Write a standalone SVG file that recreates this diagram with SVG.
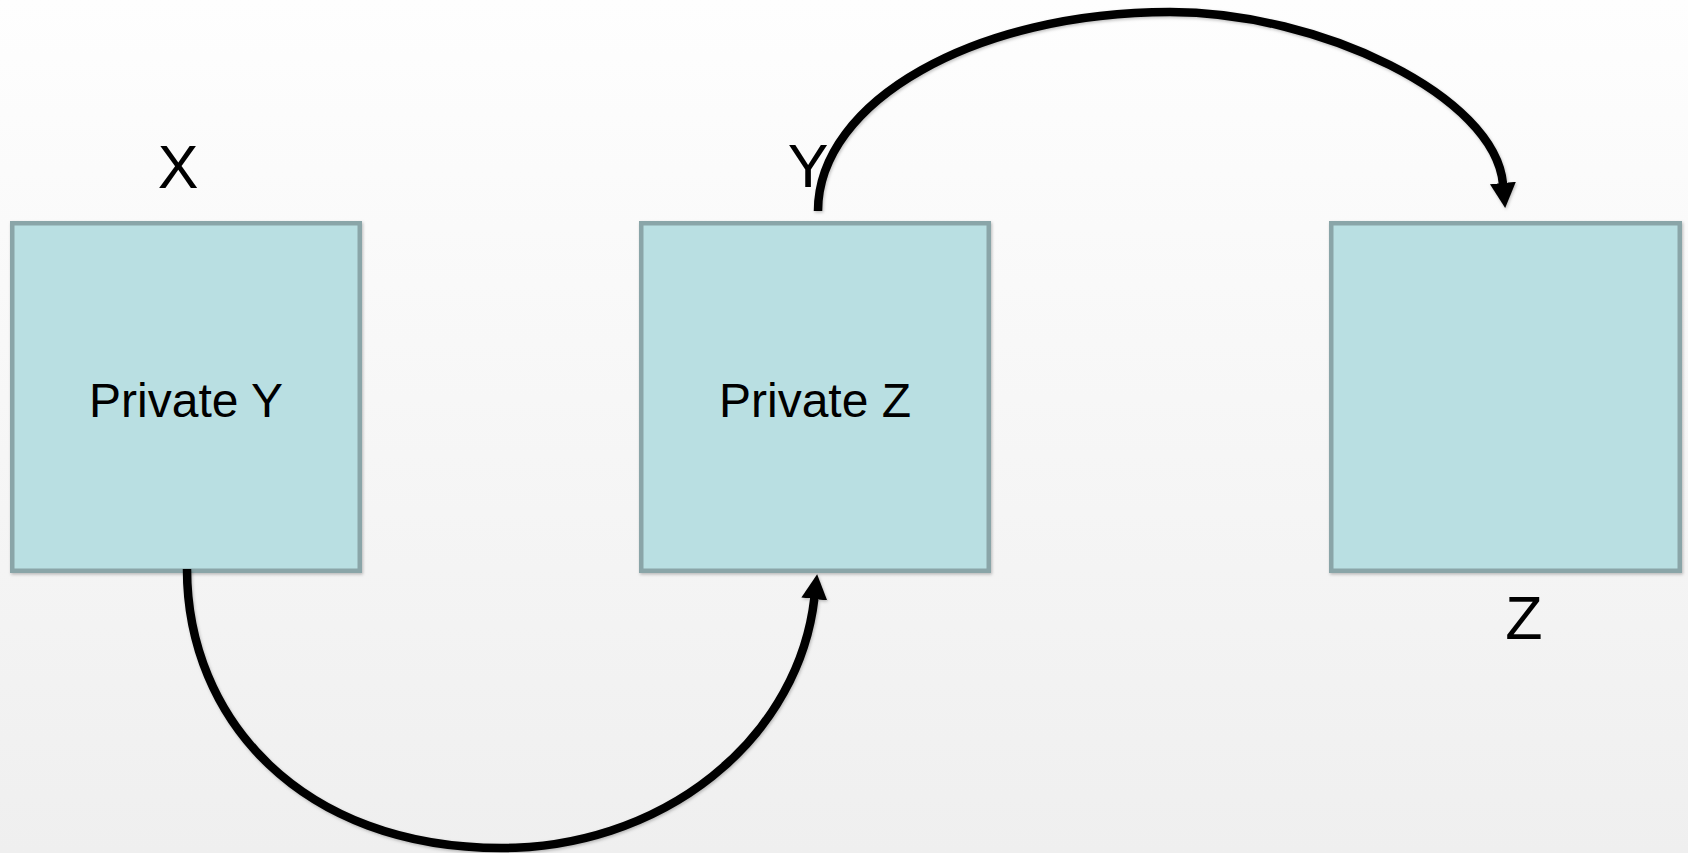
<svg xmlns="http://www.w3.org/2000/svg" width="1688" height="853" viewBox="0 0 1688 853">
<defs>
<linearGradient id="bg" x1="0" y1="0" x2="0" y2="1">
<stop offset="0" stop-color="#fefefe"/>
<stop offset="1" stop-color="#efefef"/>
</linearGradient>
<marker id="ah" markerUnits="userSpaceOnUse" markerWidth="28" markerHeight="28" viewBox="0 0 28 28" refX="1" refY="13.5" orient="auto">
<path d="M0,0.5 L25,13.5 L0,26.5 Z" fill="#000"/>
</marker>
<filter id="sh" x="-10%" y="-10%" width="120%" height="120%">
<feDropShadow dx="1" dy="1.5" stdDeviation="1.5" flood-color="#000" flood-opacity="0.25"/>
</filter>
</defs>
<style>
.box{fill:#b9dfe2;stroke:#8aa5a8;stroke-width:4.5}
.lbl{font-family:"Liberation Sans",Arial,sans-serif;fill:#000;text-anchor:middle}
.big{font-size:61px}
.inner{font-size:48px}
.conn{fill:none;stroke:#000;stroke-width:8.5;marker-end:url(#ah)}
</style>
<rect width="1688" height="853" fill="url(#bg)"/>
<g id="node-x">
<rect class="box" x="12.25" y="223.25" width="347.5" height="347.5" filter="url(#sh)"/>
<text class="lbl inner" x="186" y="417">Private Y</text>
<text class="lbl big" x="178" y="188">X</text>
</g>
<g id="node-y">
<rect class="box" x="641.25" y="223.25" width="347.5" height="347.5" filter="url(#sh)"/>
<text class="lbl inner" x="815" y="417">Private Z</text>
<text class="lbl big" x="808" y="187">Y</text>
</g>
<g id="node-z">
<rect class="box" x="1331.25" y="223.25" width="348.5" height="347.5" filter="url(#sh)"/>
<text class="lbl big" x="1524" y="639">Z</text>
</g>
<g id="connectors" filter="url(#sh)">
<path class="conn" d="M187,569 C187,719 301.5,848 501.5,848 A314.5,278 0 0 0 814.4,598"/>
<path class="conn" d="M818,211 C818,101 976,12 1170,12 C1320,12 1495,96 1503,184"/>
</g>
</svg>
